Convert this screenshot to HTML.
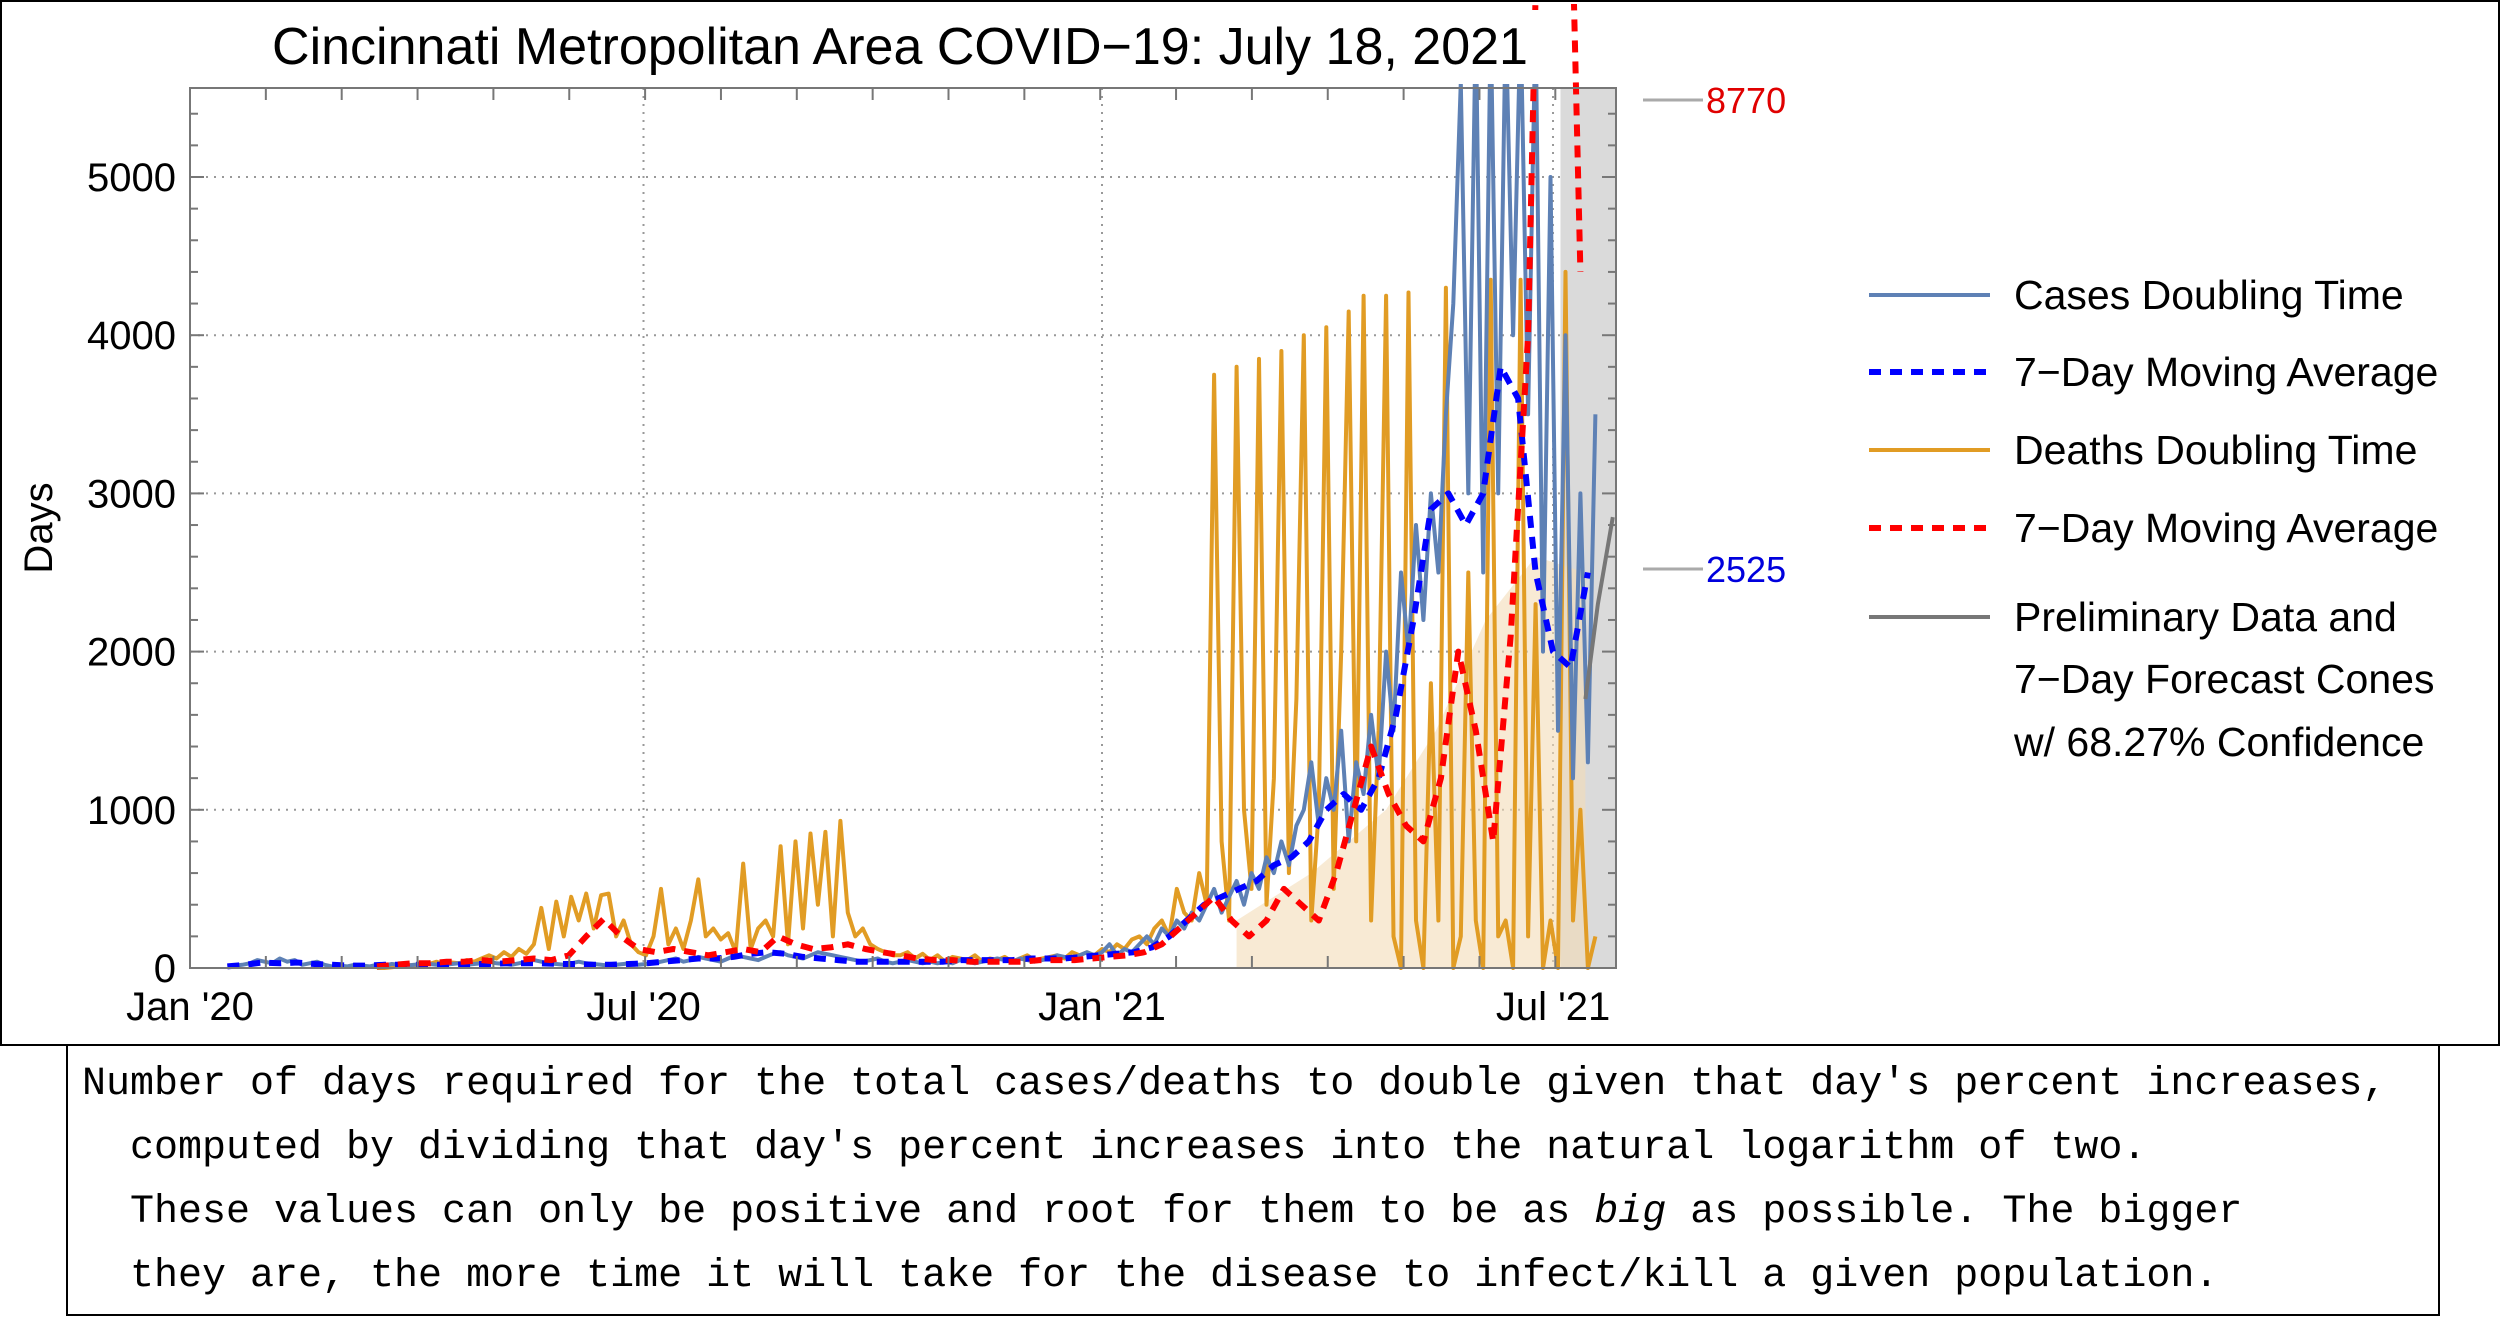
<!DOCTYPE html>
<html><head><meta charset="utf-8">
<style>
body{margin:0;background:#fff;width:2500px;height:1320px;overflow:hidden;font-family:"Liberation Sans",sans-serif;}
#frame{position:absolute;left:0;top:0;width:2496px;height:1042px;border:2px solid #000;}
#caption{position:absolute;left:66px;top:1045px;width:2358px;height:271px;padding-left:14px;border:2px solid #000;border-top:none;font-family:"Liberation Mono",monospace;font-size:40px;line-height:64px;white-space:pre;padding-top:8px;box-sizing:border-box;width:2374px;}
</style></head><body>
<div id="frame"></div>
<svg id="chart" width="2500" height="1045" style="position:absolute;left:0;top:0">
<defs><clipPath id="clip"><rect x="190" y="4" width="1426" height="968"/></clipPath></defs>
<g id="grid"></g>
<g id="marks" clip-path="url(#clip)"></g>
<g id="axes"></g>
<rect x="262" y="10" width="1278" height="74" fill="#fff"/>
<text x="900" y="64" font-size="52" text-anchor="middle">Cincinnati Metropolitan Area COVID−19: July 18, 2021</text>
<text transform="translate(52,528) rotate(-90)" font-size="40" text-anchor="middle">Days</text>
<g id="legend"></g>
</svg>
<div id="caption">Number of days required for the total cases/deaths to double given that day's percent increases,
  computed by dividing that day's percent increases into the natural logarithm of two.
  These values can only be positive and root for them to be as <i>big</i> as possible. The bigger
  they are, the more time it will take for the disease to infect/kill a given population.</div>
<script>
const yTicks=[0,1000,2000,3000,4000,5000];
const xTickLabels=["Jan '20","Jul '20","Jan '21","Jul '21"];
const xTickDays=[0,182,366,547];
const casesStart=15, casesStep=3;
const casesValues=[10,15,20,30,50,40,30,60,40,50,20,30,40,20,10,15,10,20,15,10,20,15,25,20,15,20,30,25,20,
20,25,30,20,25,30,40,30,25,20,30,40,50,40,30,25,20,30,40,30,25,20,15,20,25,30,20,
25,30,40,50,60,40,50,70,60,50,40,60,80,70,60,50,70,90,100,80,70,60,80,100,90,80,70,60,50,40,50,60,40,30,40,50,40,30,40,30,40,30,50,40,30,40,50,60,50,40,60,50,40,50,60,80,70,60,80,100,
80,100,150,80,120,100,150,200,150,250,200,300,250,350,300,400,500,350,450,550,400,600,500,700,600,800,650,900,1000,1300,
900,1200,1000,1500,800,1300,1100,1600,1200,2000,1500,2500,2000,2800,2200,3000,2500,3500,4200,5600,3000,
6000,2500,6000,3000,6000,4000,6000,3500,6000,2000,5000,1500,4000,1200,3000,1300,3500];
const casesMAStart=15, casesMAStep=7;
const casesMA=[10,20,35,30,35,25,20,15,15,20,20,20,20,
20,25,25,30,30,30,25,25,20,20,25,30,
40,50,60,60,70,90,100,90,70,60,50,40,40,40,40,40,40,50,50,50,50,60,60,60,70,80,
90,100,130,200,300,400,450,500,550,650,700,800,1000,1100,
1000,1200,1600,2200,2900,3000,2800,3000,3800,3600,2500,2000,1900,2500];
const deathsStart=75, deathsStep=3;
const deathsValues=[0,0,5,10,20,15,30,25,40,20,35,30,50,40,60,
80,60,100,70,120,90,150,380,120,420,
200,450,300,470,250,460,470,200,
300,150,100,80,
200,500,150,250,120,300,560,200,250,180,220,100,660,120,250,300,200,770,150,800,250,850,400,860,200,930,350,200,250,150,120,100,80,
80,100,60,90,50,80,40,70,60,50,80,40,60,50,70,40,60,80,50,60,70,80,60,100,80,
100,80,120,100,150,120,180,200,150,250,300,200,500,350,300,600,400,
3750,800,300,3800,1000,500,3850,400,1200,3900,600,1700,4000,300,1000,4050,500,2000,4150,800,
4250,300,1500,4250,200,0,4270,300,0,1800,300,4300,0,200,2500,300,0,4350,200,
300,0,4350,200,2300,0,300,0,4400,300,1000,0,200];
const deathsMAStart=75, deathsMAStep=7;
const deathsMA=[10,20,30,30,40,40,50,40,50,60,50,80,200,
310,200,120,100,120,100,80,100,120,100,200,150,120,130,
150,120,100,80,60,50,50,40,40,40,40,50,50,50,
60,70,80,100,150,250,350,450,300,200,300,500,400,300,
600,1000,1400,1100,900,800,1200,2000,1500,800,2100,4000,9000,9000,4400];
const confDays=[420,450,480,500,520,540,560];
const confUpper=[300,600,1000,1500,2200,2600,2500];
const forecastDays=[560,565,571];
const forecastValues=[1700,2300,2850];
const labelValues=[8770,2525];

const NS="http://www.w3.org/2000/svg";
const X0=190,PXD=912/366,Y0=968,PXV=158.2/1000;
const xs=d=>X0+d*PXD, ys=v=>Y0-v*PXV;
function mk(tag,attrs,parent){const e=document.createElementNS(NS,tag);for(const k in attrs)e.setAttribute(k,attrs[k]);parent.appendChild(e);return e;}
const grid=document.getElementById('grid'),marks=document.getElementById('marks'),axes=document.getElementById('axes'),legend=document.getElementById('legend');

let band=mk('rect',{x:xs(550),y:88,width:1616-xs(550),height:880,fill:'#dadada'},marks);


yTicks.slice(1).forEach(v=>{let l=mk('line',{x1:190,x2:1616,y1:ys(v),y2:ys(v),stroke:'#999','stroke-width':2,'stroke-dasharray':'2 6'},grid);

});
xTickDays.slice(1).forEach(d=>{let l=mk('line',{x1:xs(d),x2:xs(d),y1:88,y2:968,stroke:'#999','stroke-width':2,'stroke-dasharray':'2 6'},grid);

});
let cp=confDays.map((d,i)=>xs(d)+','+ys(confUpper[i])).join(' ')+' '+xs(560)+','+Y0+' '+xs(420)+','+Y0;
let conf=mk('polygon',{points:cp,fill:'#f3dcb8','fill-opacity':0.6},marks);


function series(start,step,vals,attrs,name){
 const pts=vals.map((v,i)=>xs(start+i*step).toFixed(1)+','+ys(v).toFixed(1)).join(' ');
 const p=mk('polyline',Object.assign({points:pts,fill:'none','stroke-linejoin':'round'},attrs),marks);
 
 
}
series(deathsStart,deathsStep,deathsValues,{stroke:'#e19c24','stroke-width':4},'deaths-doubling-line');
series(casesStart,casesStep,casesValues,{stroke:'#5e81b5','stroke-width':4},'cases-doubling-line');
series(casesMAStart,casesMAStep,casesMA,{stroke:'#0000ff','stroke-width':6,'stroke-dasharray':'12 9'},'cases-moving-average');
series(deathsMAStart,deathsMAStep,deathsMA,{stroke:'#ff0000','stroke-width':6,'stroke-dasharray':'12 9'},'deaths-moving-average');
(function(){const pts=forecastDays.map((d,i)=>xs(d)+','+ys(forecastValues[i])).join(' ');
const p=mk('polyline',{points:pts,fill:'none',stroke:'#777','stroke-width':4},marks);

})();
let fr=mk('rect',{x:190,y:88,width:1426,height:880,fill:'none',stroke:'#777','stroke-width':2},axes);


for(let v=0;v<=5400;v+=200){const maj=v%1000===0;
 mk('line',{x1:190,x2:190+(maj?14:8),y1:ys(v),y2:ys(v),stroke:'#777','stroke-width':2},axes);
 mk('line',{x1:1616,x2:1616-(maj?14:8),y1:ys(v),y2:ys(v),stroke:'#777','stroke-width':2},axes);}
for(let m=0;m<19;m++){const d=m*30.44;
 mk('line',{x1:xs(d),x2:xs(d),y1:968,y2:956,stroke:'#777','stroke-width':2},axes);
 mk('line',{x1:xs(d),x2:xs(d),y1:88,y2:100,stroke:'#777','stroke-width':2},axes);}
yTicks.forEach(v=>{let t=mk('text',{x:176,y:ys(v)+14,'font-size':40,'text-anchor':'end'},axes);t.textContent=v;

});
xTickDays.forEach((d,i)=>{let t=mk('text',{x:xs(d),y:1020,'font-size':40,'text-anchor':'middle'},axes);t.textContent=xTickLabels[i];

});
[[100,'#e00000'],[569,'#0000dd']].forEach((c,i)=>{
 mk('line',{x1:1643,x2:1703,y1:c[0],y2:c[0],stroke:'#aaa','stroke-width':3},axes);
 let t=mk('text',{x:1706,y:c[0]+13,'font-size':36,fill:c[1]},axes);t.textContent=labelValues[i];
 
 });
const legItems=[["Cases Doubling Time",'#5e81b5',0,295],["7−Day Moving Average",'#0000ff',1,372],["Deaths Doubling Time",'#e19c24',0,450],["7−Day Moving Average",'#ff0000',1,528],["Preliminary Data and",'#777',0,617]];
legItems.forEach(it=>{
 const g=mk('g',{},legend);
 
 
 mk('line',Object.assign({x1:1869,x2:1990,y1:it[3],y2:it[3],stroke:it[1],'stroke-width':it[2]?6:4},it[2]?{'stroke-dasharray':'12 9'}:{}),g);
 const t=mk('text',{x:2014,y:it[3]+14,'font-size':41},g);t.textContent=it[0];});
[["7−Day Forecast Cones",679],["w/ 68.27% Confidence",742]].forEach(a=>{const t=mk('text',{x:2014,y:a[1]+14,'font-size':41},legend);t.textContent=a[0];

});
</script>
</body></html>
